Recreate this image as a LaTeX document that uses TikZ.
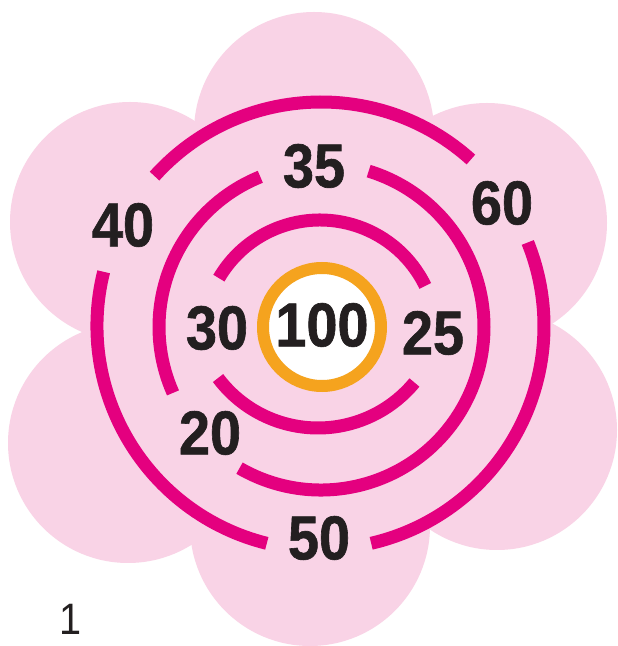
\documentclass[tikz,border=0pt]{standalone}
\usepackage{fontspec}
\newfontfamily\numfont[FakeStretch=0.9, BoldFeatures={FakeBold=1}]{Liberation Sans}
\definecolor{petal}{RGB}{249,211,230}
\definecolor{mag}{RGB}{228,0,127}
\definecolor{ora}{RGB}{245,163,30}
\definecolor{ink}{RGB}{35,31,32}
\tikzset{
  petalfill/.style={fill=petal, draw=none},
  ring/.style={draw=mag, line width=13pt},
  num/.style={text=ink, inner sep=0pt, font=\numfont\bfseries\fontsize{62}{62}\selectfont},
  plain/.style={text=ink, inner sep=0pt, font=\numfont\fontsize{44}{44}\selectfont},
}
\begin{document}
\begin{tikzpicture}[x=1pt,y=1pt]
\useasboundingbox (0,0) rectangle (618,646);
\clip (0,0) rectangle (618,646);
\fill[white] (0,0) rectangle (618,646);
% petals
\coordinate (pT) at (314,514);
\coordinate (pUL) at (130,424);
\coordinate (pLL) at (128,203);
\coordinate (pB) at (310,120);
\coordinate (pLR) at (497,216);
\coordinate (pUR) at (487,423);
\fill[petalfill] (pT) -- (pUL) -- (pLL) -- (pB) -- (pLR) -- (pUR) -- cycle;
\foreach \p in {pT,pUL,pLL,pB,pLR,pUR}
  \fill[petalfill] (\p) circle[radius=120];
% ring centres
\coordinate (OAt) at (320,309);
\coordinate (OAb) at (318,343);
\coordinate (OB) at (321,319);
\coordinate (OC) at (321,320);
% inner ring
\draw[ring] ([shift={(25.9:117)}]OAt) arc[start angle=25.9, end angle=149.8, radius=117];
\draw[ring] ([shift={(216.9:125)}]OAb) arc[start angle=216.9, end angle=320.5, radius=125];
% middle ring
\draw[ring] ([shift={(112:162)}]OB) arc[start angle=112, end angle=204, radius=162];
\draw[ring] ([shift={(-120:163)}]OB) arc[start angle=-120, end angle=73, radius=163];
% outer ring
\draw[ring] ([shift={(48:224)}]OC) arc[start angle=48, end angle=138, radius=224];
\draw[ring] ([shift={(166:224)}]OC) arc[start angle=166, end angle=256, radius=224];
\draw[ring] ([shift={(-77:223)}]OC) arc[start angle=-77, end angle=22, radius=223];
% centre
\draw[draw=ora, line width=12pt, fill=white] (322,319) circle[radius=59];
% labels
\node[num] (n100) at (322,321) {100};
\node[num] (n30) at (217,318) {30};
\node[num] (n25) at (433,313) {25};
\node[num] (n35) at (314,480) {35};
\node[num] (n20) at (210,213) {20};
\node[num] (n40) at (123,421) {40};
\node[num] (n60) at (502,443) {60};
\node[num] (n50) at (319,108) {50};
\node[plain, anchor=base] (n1) at (71,11) {1};
\end{tikzpicture}
\end{document}
